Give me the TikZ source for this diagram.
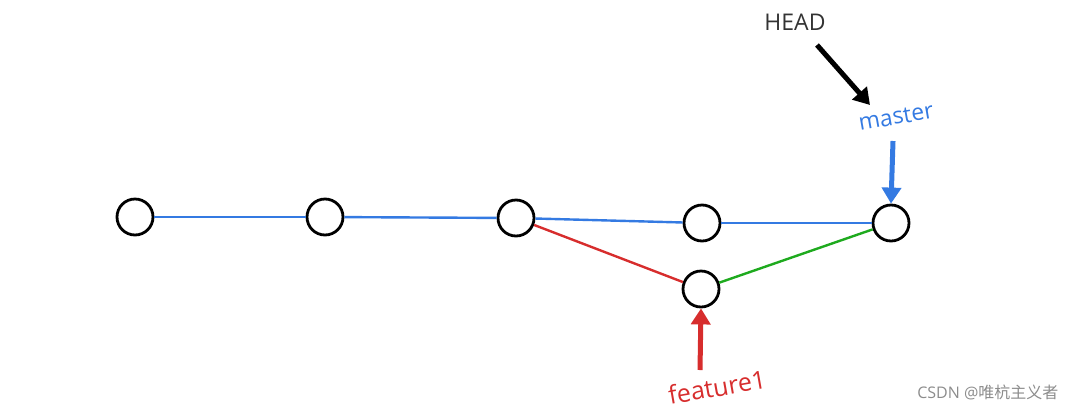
\documentclass[tikz,border=0pt]{standalone}
\usepackage{fontspec}
\setmainfont{Open Sans}
\newfontfamily\cjk{Noto Sans CJK SC}
\usetikzlibrary{arrows.meta}
\definecolor{gblue}{RGB}{52,122,226}
\definecolor{gred}{RGB}{215,45,45}
\definecolor{ggreen}{RGB}{30,170,30}
\tikzset{
  commit/.style={circle,draw=black,line width=2.8pt,minimum size=36pt,inner sep=0pt,fill=white},
  edge/.style={line width=2.4pt},
  ptr/.style={line width=5pt,-{Triangle[length=16pt,width=19pt]}},
}
\begin{document}
\begin{tikzpicture}[x=1pt,y=-1pt]
\useasboundingbox (0,0) rectangle (1075,413);
\node[commit] (c1) at (135,217) {};
\node[commit] (c2) at (325,217) {};
\node[commit] (c3) at (516,218) {};
\node[commit] (c4) at (702,223) {};
\node[commit] (c5) at (891,223) {};
\node[commit] (c6) at (701,289) {};
\draw[edge,gblue] (c1) -- (c2);
\draw[edge,gblue] (c2) -- (c3);
\draw[edge,gblue] (c3) -- (c4);
\draw[edge,gblue] (c4) -- (c5);
\draw[edge,gred] (c3) -- (c6);
\draw[edge,ggreen] (c6) -- (c5);
\node[font=\fontsize{23}{25}\selectfont,text=black!80] (head) at (795,22) {HEAD};
\node[font=\fontsize{23}{25}\selectfont,text=gblue,rotate=10] (master) at (896,117) {master};
\node[font=\fontsize{25}{27}\selectfont,text=gred,rotate=10] (feat) at (717,387) {feature1};
\coordinate (hs) at (817,45);
\coordinate (he) at (870,105);
\draw[ptr,black] (hs) -- (he);
\coordinate (ms) at (893,141);
\draw[ptr,gblue] (ms) -- (c5.north);
\coordinate (fs) at (700,370);
\draw[ptr,gred] (fs) -- (c6.south);
\node[font=\fontsize{16}{18}\selectfont,text=black!45,anchor=east] (wm) at (1062,392) {CSDN @{\cjk 唯杭主义者}};
\end{tikzpicture}
\end{document}
